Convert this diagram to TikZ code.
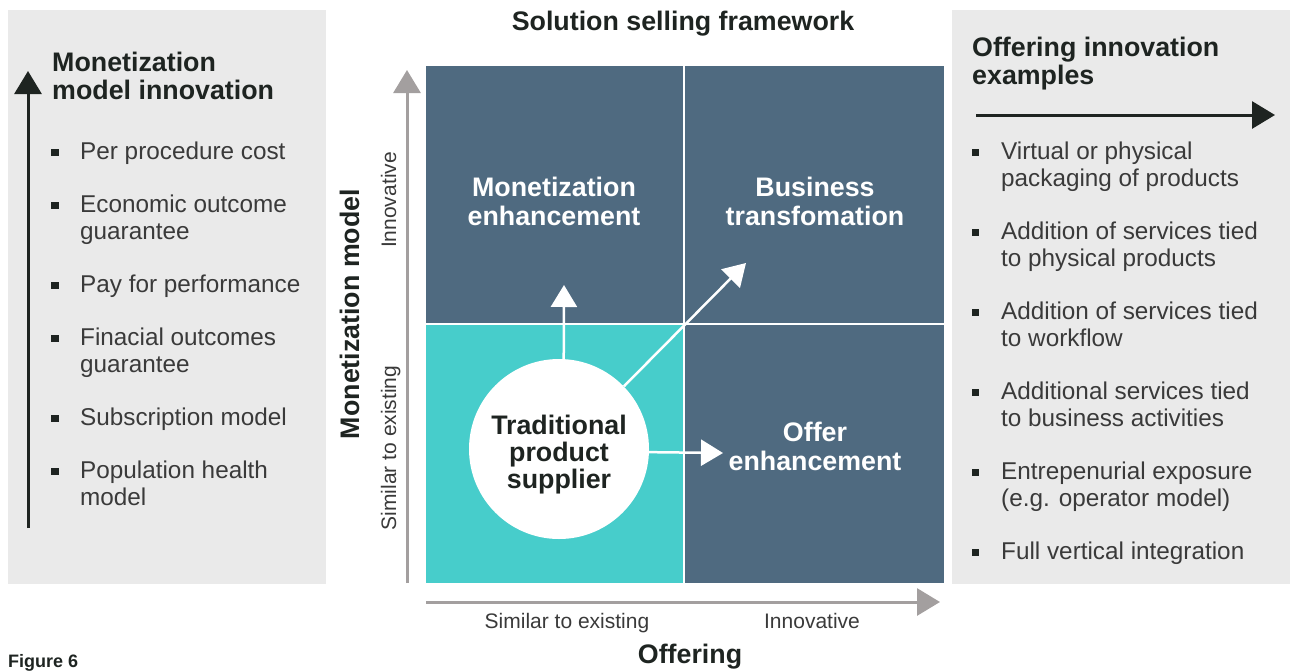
\documentclass[tikz,border=0pt]{standalone}
\usepackage{fontspec}
\setmainfont{Liberation Sans}
\usetikzlibrary{arrows.meta}
\definecolor{panelgray}{HTML}{EAEAEA}
\definecolor{slate}{HTML}{4F6A80}
\definecolor{aqua}{HTML}{47CDCB}
\definecolor{axisgray}{HTML}{A39F9F}
\definecolor{ink}{HTML}{1E2421}
\definecolor{bodytext}{HTML}{3A3A3A}
\tikzset{
  heading/.style={font=\fontsize{26.8}{28}\selectfont\bfseries, text=ink, inner sep=0pt, align=left, anchor=base west},
  quadlbl/.style={font=\fontsize{26.8}{29}\selectfont\bfseries, text=white, inner sep=0pt, align=center, anchor=base},
  itemtext/.style={font=\fontsize{24.3}{27}\selectfont, text=bodytext, inner sep=0pt, align=left, anchor=base west},
  axislbl/.style={font=\fontsize{21}{24}\selectfont, text=bodytext, inner sep=0pt, anchor=base},
  axistitle/.style={font=\fontsize{26.8}{29}\selectfont\bfseries, text=ink, inner sep=0pt, anchor=base},
  bulletsq/.style={fill=ink, minimum size=7.5pt, inner sep=0pt},
  whitearrow/.style={draw=white, line width=2.5pt, -{Triangle[length=22pt,width=26pt]}},
  grayaxis/.style={draw=axisgray, line width=3pt, -{Triangle[length=23pt,width=27pt]}},
  inkarrow/.style={draw=ink, line width=3pt, -{Triangle[length=23pt,width=27pt]}},
}
\begin{document}
\begin{tikzpicture}[x=1pt,y=1pt]
\useasboundingbox (0,0) rectangle (1290,-670);

% side panels
\fill[panelgray] (8,-10) rectangle (326,-584);
\fill[panelgray] (952,-10) rectangle (1290,-584);

% title
\node[axistitle] (title) at (683,-30) {Solution selling framework};

% 2x2 grid
\fill[slate] (426,-66) rectangle (944,-583);
\fill[aqua] (426,-324) rectangle (684,-583);
\draw[white, line width=2.5pt] (684,-66) -- (684,-583);
\draw[white, line width=2.5pt] (426,-324) -- (944,-324);

% quadrant labels (anchored on the baseline of their last line)
\node[quadlbl] (monenh) at (554,-225) {Monetization\\enhancement};
\node[quadlbl] (bustr) at (815,-225) {Business\\transfomation};
\node[quadlbl] (offenh) at (815,-470) {Offer\\enhancement};

% starting position and moves
\node[circle, fill=white, minimum size=180pt, inner sep=0pt] (tps) at (559,-449) {};
\node[font=\fontsize{26.8}{27}\selectfont\bfseries, text=ink, inner sep=0pt, align=center, anchor=base] (tpstext) at (559,-488) {Traditional\\product\\supplier};
\coordinate (upend) at (564,-285);
\coordinate (diagend) at (746,-263);
\coordinate (rightend) at (723,-453);
\draw[whitearrow] (tps.87) -- (upend);
\draw[whitearrow] (tps.44) -- (diagend);
\draw[whitearrow] (tps.-2.5) -- (rightend);

% axes
\coordinate (yaxbot) at (407,-583);
\coordinate (yaxtop) at (407,-70);
\coordinate (xaxleft) at (426,-602);
\coordinate (xaxright) at (940,-602);
\draw[grayaxis] (yaxbot) -- (yaxtop);
\draw[grayaxis] (xaxleft) -- (xaxright);
\node[axislbl, rotate=90] (ylow) at (396,-448) {Similar to existing};
\node[axislbl, rotate=90] (yhigh) at (396,-200) {Innovative};
\node[axistitle, rotate=90] (ytitle) at (359,-314) {Monetization model};
\node[axislbl] (xlow) at (567,-628) {Similar to existing};
\node[axislbl] (xhigh) at (812,-628) {Innovative};
\node[axistitle] (xtitle) at (690,-663) {Offering};

% left panel: monetization model innovation
\coordinate (larrbot) at (28,-528);
\coordinate (larrtop) at (28,-71);
\draw[inkarrow] (larrbot) -- (larrtop);
\node[heading] (lhead) at (52,-99) {Monetization\\model innovation};
\node[bulletsq] (lb1) at (55,-152.5) {};
\node[itemtext] (li1) at (80,-159) {Per procedure cost};
\node[bulletsq] (lb2) at (55,-205.5) {};
\node[itemtext] (li2) at (80,-239) {Economic outcome\\guarantee};
\node[bulletsq] (lb3) at (55,-285.5) {};
\node[itemtext] (li3) at (80,-292) {Pay for performance};
\node[bulletsq] (lb4) at (55,-338.5) {};
\node[itemtext] (li4) at (80,-372) {Finacial outcomes\\guarantee};
\node[bulletsq] (lb5) at (55,-418.5) {};
\node[itemtext] (li5) at (80,-425) {Subscription model};
\node[bulletsq] (lb6) at (55,-471.5) {};
\node[itemtext] (li6) at (80,-505) {Population health\\model};

% right panel: offering innovation examples
\node[heading] (rhead) at (972,-84) {Offering innovation\\examples};
\coordinate (rarrleft) at (976,-115);
\coordinate (rarrright) at (1275,-115);
\draw[inkarrow] (rarrleft) -- (rarrright);
\node[bulletsq] (rb1) at (975.5,-152.5) {};
\node[itemtext] (ri1) at (1001,-186) {Virtual or physical\\packaging of products};
\node[bulletsq] (rb2) at (975.5,-232.5) {};
\node[itemtext] (ri2) at (1001,-266) {Addition of services tied\\to physical products};
\node[bulletsq] (rb3) at (975.5,-312.5) {};
\node[itemtext] (ri3) at (1001,-346) {Addition of services tied\\to workflow};
\node[bulletsq] (rb4) at (975.5,-392.5) {};
\node[itemtext] (ri4) at (1001,-426) {Additional services tied\\to business activities};
\node[bulletsq] (rb5) at (975.5,-472.5) {};
\node[itemtext] (ri5) at (1001,-506) {Entrepenurial exposure\\(e.g. operator model)};
\node[bulletsq] (rb6) at (975.5,-552.5) {};
\node[itemtext] (ri6) at (1001,-559) {Full vertical integration};

% caption
\node[font=\fontsize{18}{20}\selectfont\bfseries, text=ink, inner sep=0pt, anchor=base west] (caption) at (8,-667) {Figure 6};
\end{tikzpicture}
\end{document}
